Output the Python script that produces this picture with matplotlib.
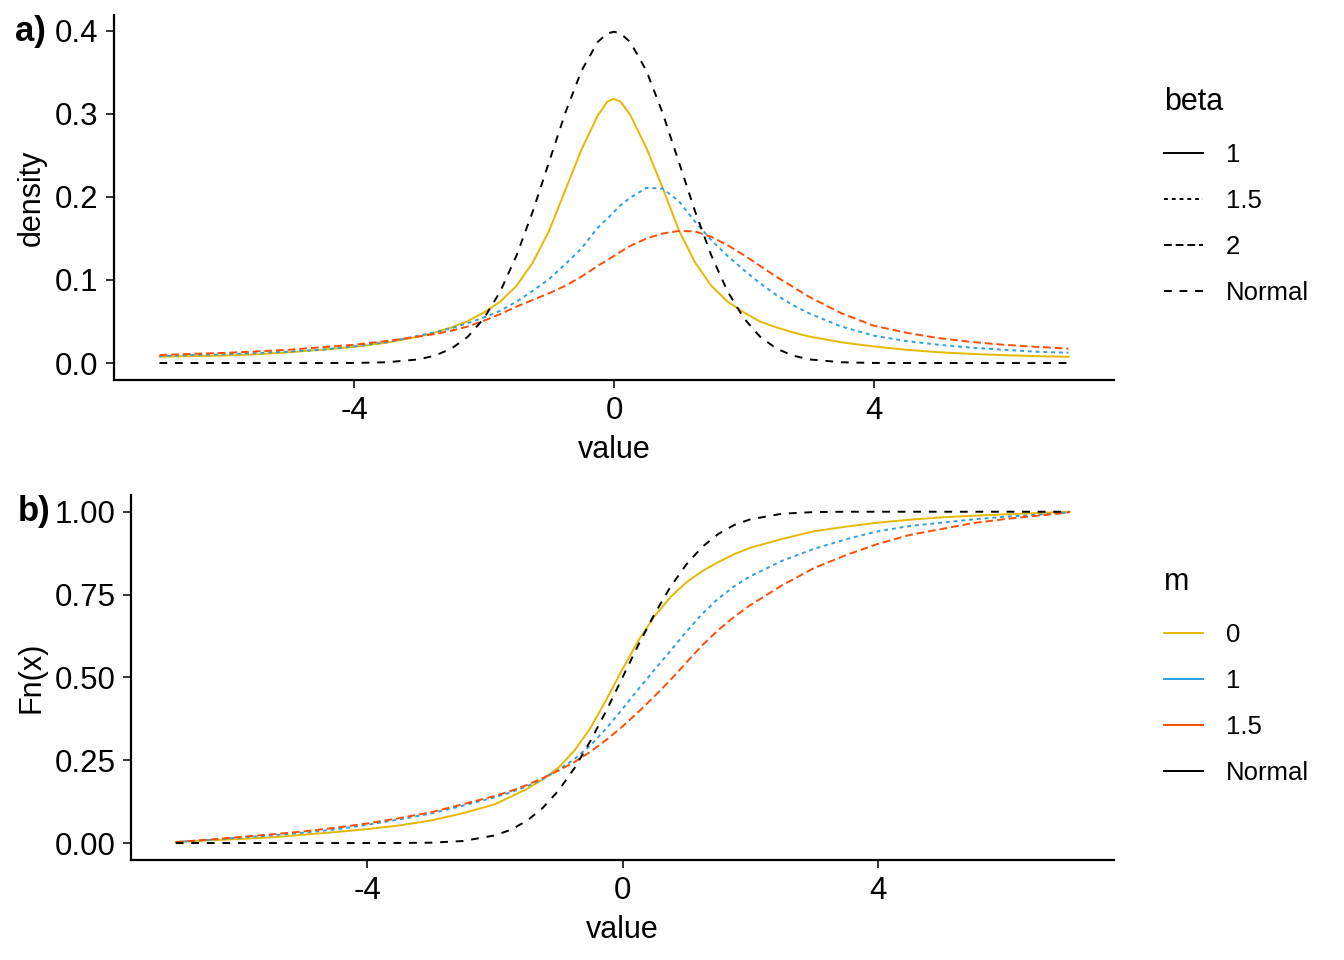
import matplotlib
matplotlib.use("Agg")
import matplotlib.pyplot as plt
from matplotlib.lines import Line2D

plt.rcParams['font.family'] = ['Liberation Sans', 'DejaVu Sans']

# ---- panel a) densities ----
dens_x = [-7, -6.5, -6, -5.5, -5, -4.5, -4, -3.5,
          -3, -2.75, -2.5, -2.25, -2, -1.75, -1.5, -1.25, -1, -0.75, -0.5, -0.25,
          -0.1, 0, 0.1,
          0.25, 0.5, 0.75, 1, 1.25, 1.5, 1.75, 2, 2.25, 2.5, 2.75, 3,
          3.5, 4, 4.5, 5, 5.5, 6, 6.5, 7]
dens_beta1 = [0.0076, 0.0083, 0.009, 0.0105, 0.013, 0.016, 0.0195, 0.0245,
              0.032, 0.037, 0.043, 0.0505, 0.061, 0.074, 0.093, 0.121, 0.159, 0.208, 0.257, 0.298,
              0.315, 0.318, 0.315,
              0.299, 0.259, 0.211, 0.16, 0.121, 0.093, 0.074, 0.061, 0.05, 0.043, 0.037, 0.032,
              0.025, 0.02, 0.016, 0.013, 0.011, 0.0095, 0.0083, 0.0075]
dens_beta15 = [0.0084, 0.0095, 0.0105, 0.012, 0.0138, 0.016, 0.02, 0.025,
               0.033, 0.037, 0.042, 0.048, 0.055, 0.063, 0.074, 0.087, 0.101, 0.119, 0.138, 0.163,
               0.174, 0.182, 0.19,
               0.199, 0.211, 0.21, 0.195, 0.17, 0.148, 0.129, 0.112, 0.096, 0.082, 0.07, 0.06,
               0.044, 0.033, 0.0265, 0.022, 0.0185, 0.016, 0.0136, 0.0124]
dens_beta2 = [0.0096, 0.011, 0.0122, 0.014, 0.016, 0.019, 0.022, 0.0265,
              0.032, 0.035, 0.039, 0.044, 0.051, 0.059, 0.068, 0.076, 0.084, 0.093, 0.104, 0.117,
              0.124, 0.129, 0.134,
              0.141, 0.15, 0.156, 0.159, 0.1585, 0.152, 0.142, 0.13, 0.117, 0.104, 0.092, 0.08,
              0.06, 0.045, 0.0365, 0.03, 0.0255, 0.022, 0.0195, 0.0173]
dens_normal = [0, 0, 0, 0, 0, 0, 0.0001, 0.0009,
               0.0044, 0.0091, 0.0175, 0.0317, 0.054, 0.0863, 0.1295, 0.1826, 0.242, 0.3011, 0.352, 0.3867,
               0.397, 0.399, 0.397,
               0.3867, 0.352, 0.3011, 0.242, 0.1826, 0.1295, 0.0863, 0.054, 0.0317, 0.0175, 0.0091, 0.0044,
               0.0009, 0.0001, 0, 0, 0, 0, 0, 0]

# ---- panel b) empirical CDFs ----
cdf_x = [-7, -6.5, -6, -5.5, -5, -4.5, -4, -3.5, -3, -2.5,
         -2, -1.75, -1.5, -1.25, -1, -0.75, -0.5, -0.25,
         0, 0.25, 0.5, 0.75, 1, 1.25, 1.5, 1.75,
         2, 2.5, 3, 3.5, 4, 4.5, 5, 5.5, 6, 6.5, 7]
cdf_m0 = [0.003, 0.008, 0.012, 0.017, 0.025, 0.033, 0.042, 0.053, 0.068, 0.09,
          0.117, 0.14, 0.163, 0.192, 0.228, 0.28, 0.348, 0.434,
          0.525, 0.612, 0.684, 0.742, 0.787, 0.821, 0.848, 0.872,
          0.891, 0.918, 0.941, 0.955, 0.967, 0.976, 0.983, 0.988, 0.992, 0.996, 1.0]
cdf_m1 = [0.003, 0.009, 0.016, 0.023, 0.031, 0.041, 0.055, 0.071, 0.089, 0.113,
          0.138, 0.153, 0.171, 0.193, 0.221, 0.254, 0.295, 0.347,
          0.405, 0.465, 0.523, 0.58, 0.638, 0.692, 0.738, 0.775,
          0.805, 0.852, 0.888, 0.917, 0.941, 0.957, 0.967, 0.977, 0.985, 0.991, 0.998]
cdf_m15 = [0.003, 0.01, 0.018, 0.026, 0.035, 0.046, 0.059, 0.075, 0.093, 0.117,
           0.142, 0.157, 0.175, 0.196, 0.219, 0.245, 0.276, 0.312,
           0.352, 0.396, 0.443, 0.492, 0.545, 0.597, 0.643, 0.683,
           0.718, 0.778, 0.83, 0.869, 0.903, 0.93, 0.948, 0.966, 0.978, 0.988, 0.998]
cdf_normal = [0, 0, 0, 0, 0, 0, 0, 0.0002, 0.001, 0.006,
              0.023, 0.04, 0.067, 0.106, 0.159, 0.227, 0.309, 0.401,
              0.5, 0.599, 0.691, 0.773, 0.841, 0.894, 0.933, 0.96,
              0.977, 0.994, 0.999, 1.0, 1.0, 1.0, 1.0, 1.0, 1.0, 1.0, 1.0]

beta_labels = ["1", "1.5", "2", "Normal"]
m_labels = ["0", "1", "1.5", "Normal"]
colors = ["#E7B800", "#2E9FDF", "#FC4E07", "black"]
# ggplot linetypes: solid, "22", "42", "44"
dashes = [None, (2, 2), (4, 2), (4, 4)]

LW = 1.4
TICK_FS = 22.5
TITLE_FS = 22
LEG_FS = 18.5


def style_axes(ax, xdata):
    for side in ("top", "right"):
        ax.spines[side].set_visible(False)
    for side in ("left", "bottom"):
        ax.spines[side].set_linewidth(1.6)
    ax.tick_params(axis="both", labelsize=TICK_FS, length=6, width=1.4,
                   color="#333333", pad=5)
    ax.tick_params(axis="x", pad=6)
    lo, hi = min(xdata), max(xdata)
    ax.set_xlim(lo - 0.05 * (hi - lo), hi + 0.05 * (hi - lo))
    ax.set_xticks([-4, 0, 4])
    ax.set_xticklabels(["-4", "0", "4"])
    ax.set_xlabel("value", fontsize=TITLE_FS, labelpad=6)


def add_lines(ax, x, series):
    for y, c, d in zip(series, colors, dashes):
        line, = ax.plot(x, y, color=c, lw=LW)
        if d is not None:
            line.set_dashes(d)


def add_legend(handles, labels, title, y_top):
    leg = fig.legend(handles, labels, title=title, loc="upper left",
                     bbox_to_anchor=(0.8645, y_top), frameon=False,
                     fontsize=LEG_FS, title_fontsize=TITLE_FS,
                     alignment="left", borderpad=0.1, borderaxespad=0,
                     handlelength=1.5, handletextpad=0.9, labelspacing=0.86)
    # a little more room between the title and the first key
    leg._legend_box.sep += 3
    return leg


fig = plt.figure(figsize=(13.44, 9.6), dpi=100)

ax1 = fig.add_axes([0.0848, 0.6046, 0.7440, 0.3796])
add_lines(ax1, dens_x, [dens_beta1, dens_beta15, dens_beta2, dens_normal])
style_axes(ax1, dens_x)
ymax = max(dens_normal)
ax1.set_ylim(-0.05 * ymax, 1.05 * ymax)
ax1.set_yticks([0, 0.1, 0.2, 0.3, 0.4])
ax1.set_yticklabels(["0.0", "0.1", "0.2", "0.3", "0.4"])
ax1.set_ylabel("density", fontsize=TITLE_FS, labelpad=6)

ax2 = fig.add_axes([0.0975, 0.1046, 0.7314, 0.3796])
add_lines(ax2, cdf_x, [cdf_m0, cdf_m1, cdf_m15, cdf_normal])
style_axes(ax2, cdf_x)
ax2.set_ylim(-0.05, 1.05)
ax2.set_yticks([0, 0.25, 0.5, 0.75, 1.0])
ax2.set_yticklabels(["0.00", "0.25", "0.50", "0.75", "1.00"])
ax2.set_ylabel("Fn(x)", fontsize=TITLE_FS, labelpad=6)

# legends: linetype for panel a, colour for panel b
lt_handles = []
for d in dashes:
    h = Line2D([], [], color="black", lw=LW)
    if d is not None:
        h.set_dashes(d)
    lt_handles.append(h)
add_legend(lt_handles, beta_labels, "beta", 1 - 84 / 960)

col_handles = [Line2D([], [], color=c, lw=LW) for c in colors]
add_legend(col_handles, m_labels, "m", 1 - 564 / 960)

fig.text(0.011, 1 - 32 / 960, "a)", fontsize=25, fontweight="bold", va="center")
fig.text(0.013, 1 - 511 / 960, "b)", fontsize=25, fontweight="bold", va="center")

fig.savefig("out.png", dpi=100)
